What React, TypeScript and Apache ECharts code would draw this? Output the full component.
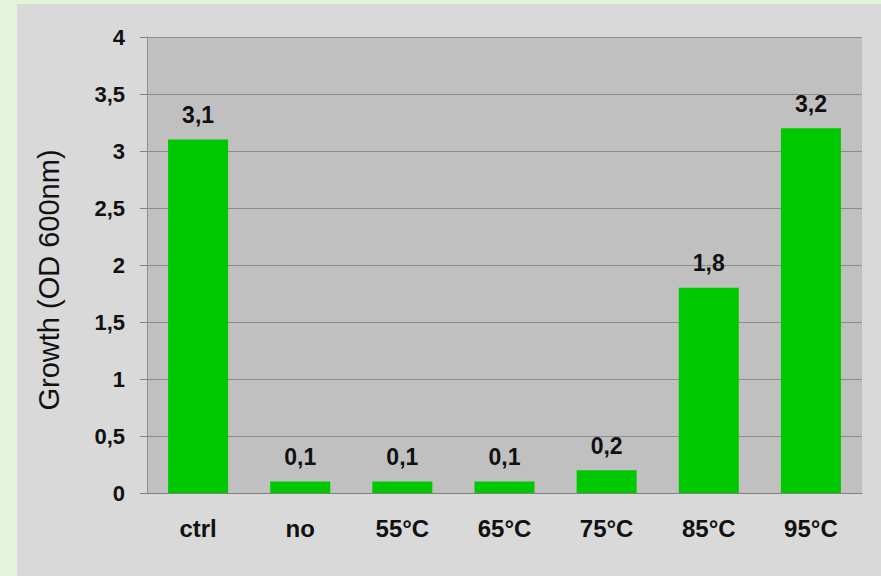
import React, { useEffect, useRef } from "react";
import * as echarts from "echarts";

const categories = ["ctrl", "no", "55°C", "65°C", "75°C", "85°C", "95°C"];
const growth = [3.1, 0.1, 0.1, 0.1, 0.2, 1.8, 3.2];
const yTicks = [0, 0.5, 1, 1.5, 2, 2.5, 3, 3.5, 4];
const yTitle = "Growth (OD 600nm)";

const fmt = (v: number) => String(v).replace(".", ",");
const FONT = "'Liberation Sans', Arial, sans-serif";

export default function App() {
  const ref = useRef<HTMLDivElement>(null);
  useEffect(() => {
    document.body.style.margin = "0";
    const chart = echarts.init(ref.current!, null, { renderer: "svg" });
    chart.setOption({
      animation: false,
      backgroundColor: "#e4f4da",
      graphic: [
        {
          type: "rect",
          shape: { x: 17, y: 4, width: 870, height: 580 },
          style: { fill: "#d9d9d9" },
          z: -10,
        },
        {
          type: "text",
          x: 49,
          y: 280,
          rotation: Math.PI / 2,
          style: {
            text: yTitle,
            fill: "#111",
            font: "29px 'Liberation Sans', Arial, sans-serif",
            align: "center",
            verticalAlign: "middle",
          },
        },
      ],
      grid: {
        left: 147,
        right: 19,
        top: 37,
        bottom: 83,
        show: true,
        backgroundColor: "#c0c0c0",
        borderWidth: 0,
      },
      xAxis: {
        type: "category",
        data: categories,
        axisLine: { show: true, lineStyle: { color: "#808080", width: 1 } },
        axisTick: { show: false },
        axisLabel: {
          margin: 23,
          color: "#111",
          fontFamily: FONT,
          fontWeight: "bold",
          fontSize: 24,
        },
      },
      yAxis: {
        type: "value",
        min: 0,
        max: 4,
        interval: 0.5,
        axisLine: { show: true, lineStyle: { color: "#909090", width: 1 } },
        axisTick: { show: true, length: 7, lineStyle: { color: "#808080" } },
        splitLine: { show: true, lineStyle: { color: "#8c8c8c", width: 1 } },
        axisLabel: {
          margin: 22,
          color: "#111",
          fontFamily: FONT,
          fontWeight: "bold",
          fontSize: 22,
          formatter: (v: number) => (yTicks.includes(v) ? fmt(v) : ""),
        },
      },
      series: [
        {
          type: "bar",
          data: growth,
          barWidth: 60,
          itemStyle: { color: "#00c800" },
          label: {
            show: true,
            position: "top",
            distance: 13,
            color: "#111",
            fontFamily: FONT,
            fontWeight: "bold",
            fontSize: 23,
            formatter: (p: any) => fmt(p.value),
          },
        },
      ],
    });
    return () => chart.dispose();
  }, []);
  return (
    <div
      ref={ref}
      style={{ position: "absolute", left: 0, top: 0, width: 881, height: 576 }}
    />
  );
}
